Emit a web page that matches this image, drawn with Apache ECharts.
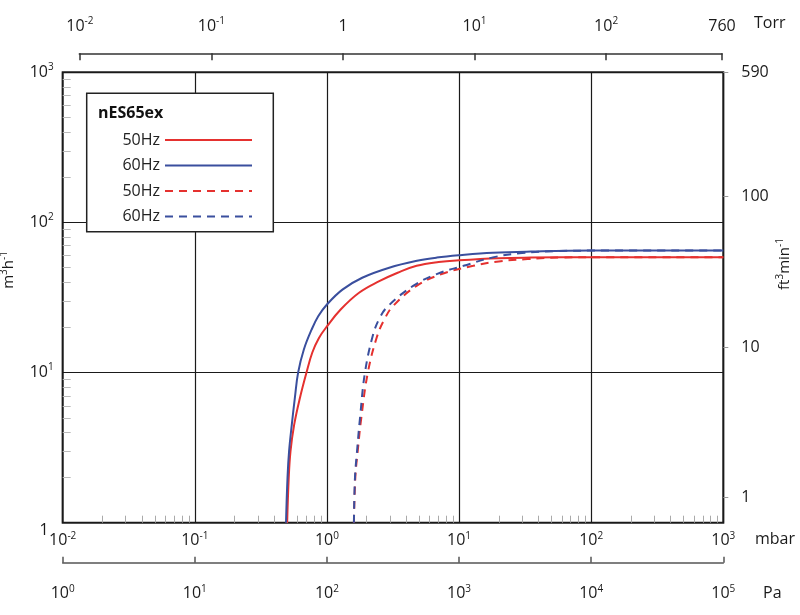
<!DOCTYPE html>
<html>
<head>
<meta charset="utf-8">
<script src="https://cdn.jsdelivr.net/npm/echarts@6.0.0/dist/echarts.min.js"></script>
<style>
  html, body { margin: 0; padding: 0; background: #fff; }
  #chart { width: 800px; height: 615px; }
</style>
</head>
<body>
<div id="chart"></div>
<script>
// nES65ex pumping speed: [pressure mbar, speed m3/h]
const solid50 = [[0.50, 1], [0.514, 2], [0.53, 3], [0.565, 4.5], [0.625, 6.8], [0.70, 10],
  [0.775, 13.6], [0.87, 17], [1.0, 20.3], [1.27, 26.3], [1.75, 34], [2.49, 40.6], [3.43, 46.2],
  [4.77, 51.4], [7, 54.5], [10, 56], [20, 57.8], [35, 58.3], [100, 58.6], [1000, 58.6]];
const solid60 = [[0.49, 1], [0.503, 2], [0.517, 3], [0.542, 4.5], [0.572, 6.8], [0.605, 10],
  [0.668, 14.2], [0.765, 19.3], [0.859, 23.7], [1.0, 28.4], [1.31, 35.7], [1.85, 42.8], [2.96, 49.9],
  [4.8, 55.5], [6.77, 58.3], [10.2, 60.5], [18, 62.8], [35, 64], [100, 64.9], [1000, 64.9]];
const dashed50 = [[1.60, 1], [1.64, 2], [1.71, 3], [1.82, 5], [2.04, 10], [2.40, 17.5], [2.75, 23],
  [3.16, 27.7], [4.77, 37.8], [7.38, 45.3], [12.8, 51.4], [20, 55], [33, 57], [60, 58.4],
  [100, 58.6], [1000, 58.6]];
const dashed60 = [[1.60, 1], [1.63, 2], [1.69, 3], [1.78, 5], [1.94, 10], [2.22, 17.5], [2.5, 23],
  [2.90, 27.7], [4.49, 37.8], [6.77, 45.3], [10.8, 51.4], [18, 58.5], [30, 62.5], [55, 64.5],
  [100, 64.9], [1000, 64.9]];

const legendTitle = 'nES65ex';
const seriesNames = ['50Hz', '60Hz', '50Hz\u200b', '60Hz\u200b'];
const torrTicks = [0.01, 0.1, 1, 10, 100, 760];
const ftTicks = [1, 10, 100, 671.5];   // top one is printed as 590
const ftTopLabel = '590';
const units = { torr: 'Torr', mbar: 'mbar', pa: 'Pa' };

// minor ticks at 2..9 of every decade
function minorValues(fromExp, toExp) {
  const out = [];
  for (let e = fromExp; e < toExp; e++) {
    for (let m = 2; m <= 9; m++) out.push(m * Math.pow(10, e));
  }
  return out;
}
const minorX = minorValues(-2, 3);
const minorY = minorValues(0, 3);

const FONT = '"Open Sans", "DejaVu Sans", sans-serif';
const INK = '#1a1a1a';
const RED = '#e5312f';
const BLUE = '#3a4f9e';

const rich = {
  b: { fontFamily: FONT, fontSize: 16, color: INK, lineHeight: 20 },
  s: { fontFamily: FONT, fontSize: 10, color: INK, lineHeight: 11, verticalAlign: 'top' },
  one: { fontFamily: FONT, fontSize: 16, color: INK, lineHeight: 20, padding: [16, 5, 0, 0] }
};
const nameRich = {
  a: { fontFamily: FONT, fontSize: 15, color: INK, lineHeight: 19 },
  s: { fontFamily: FONT, fontSize: 10, color: INK, lineHeight: 10, verticalAlign: 'top' }
};

function sup(v) {
  const e = Math.round(Math.log10(v));
  return '{b|10}{s|' + e + '}';
}
const isOne = v => Math.abs(v - 1) < 1e-9;

function unitText(text, x, y) {
  return {
    type: 'text', x: x, y: y, z: 3,
    style: { text: text, fontFamily: FONT, fontSize: 16, fill: INK,
      align: 'left', verticalAlign: 'middle', textAlign: 'left', textVerticalAlign: 'middle' }
  };
}

const chart = echarts.init(document.getElementById('chart'));

chart.setOption({
  animation: false,
  title: {
    text: legendTitle, left: 98, top: 105, padding: 0, z: 6,
    textStyle: { fontFamily: FONT, fontSize: 16, fontWeight: 'bold', color: '#111' }
  },
  graphic: [
    {
      type: 'rect', z: 3,
      shape: { x: 86.7, y: 93.3, width: 186.6, height: 138.4 },
      style: { fill: '#fff', stroke: '#222', lineWidth: 1.5 }
    },
    unitText(units.torr, 754, 23),
    unitText(units.mbar, 755, 539),
    unitText(units.pa, 763, 593)
  ],
  legend: {
    data: seriesNames,
    orient: 'vertical',
    right: 547, top: 132,
    padding: 0, itemGap: 9.5, itemWidth: 87, itemHeight: 14,
    align: 'right', selectedMode: false, z: 5,
    itemStyle: { opacity: 0 },
    formatter: n => n.replace('\u200b', ''),
    textStyle: { fontFamily: FONT, fontSize: 16, color: '#222' }
  },
  grid: [
    { left: 62.7, right: 76.7, top: 72.3, bottom: 92.3, show: true, borderColor: INK, borderWidth: 2,
      outerBoundsMode: 'none', containLabel: false },
    { left: 79.3, right: 78, top: 43.3, height: 10, show: false, outerBoundsMode: 'none', containLabel: false }
  ],
  xAxis: [
    { // mbar
      type: 'log', logBase: 10, gridIndex: 0, position: 'bottom', min: 0.01, max: 1000,
      axisLine: { show: false }, axisTick: { show: false },
      axisLabel: { margin: 8, formatter: sup, rich: rich },
      splitLine: { show: true, lineStyle: { color: INK, width: 1.2 } }
    },
    { // Pa
      type: 'log', logBase: 10, gridIndex: 0, position: 'bottom', offset: 40, min: 1, max: 100000,
      axisLine: { show: true, lineStyle: { color: '#555', width: 1.5 } },
      axisTick: { show: true, inside: true, length: 6, lineStyle: { color: '#555', width: 1.5 } },
      axisLabel: { margin: 21, formatter: sup, rich: rich },
      splitLine: { show: false }
    },
    { // Torr
      type: 'log', logBase: 10, gridIndex: 1, position: 'top', min: 0.0099, max: 760.5,
      axisLine: { show: true, lineStyle: { color: '#333', width: 1.5 } },
      axisTick: { show: true, inside: true, length: 7, customValues: torrTicks, lineStyle: { color: '#333', width: 1.5 } },
      axisLabel: {
        margin: 7, customValues: torrTicks, rich: rich,
        formatter: v => v > 700 ? '{b|760}' : (isOne(v) ? '{b|1}' : sup(v))
      },
      splitLine: { show: false }
    },
    { // minor ticks along the mbar edge
      type: 'log', logBase: 10, gridIndex: 0, position: 'bottom', min: 0.01, max: 1000,
      axisLine: { show: false }, axisLabel: { show: false }, splitLine: { show: false },
      axisTick: { show: true, inside: true, length: 7, customValues: minorX, lineStyle: { color: '#aaa', width: 1 } }
    }
  ],
  yAxis: [
    { // m3/h
      type: 'log', logBase: 10, gridIndex: 0, position: 'left', min: 1, max: 1000,
      name: '{a|m}{s|3}{a|h}{s|-1}', nameLocation: 'middle', nameGap: 44.7, nameMoveOverlap: false,
      nameTextStyle: { rich: nameRich, padding: [0, 0, 0, 55] },
      axisLine: { show: false }, axisTick: { show: false },
      axisLabel: { margin: 9, rich: rich, formatter: v => isOne(v) ? '{one|1}' : sup(v) },
      splitLine: { show: true, lineStyle: { color: INK, width: 1.2 } }
    },
    { // ft3/min
      type: 'log', logBase: 10, gridIndex: 0, position: 'right', min: 0.678, max: 672,
      name: '{a|ft}{s|3}{a|min}{s|-1}', nameLocation: 'middle', nameGap: 52, nameMoveOverlap: false,
      nameTextStyle: { rich: nameRich, padding: [0, 0, 0, 67] },
      axisLine: { show: false },
      axisTick: { show: true, length: 5, customValues: ftTicks, lineStyle: { color: '#999', width: 1 } },
      axisLabel: {
        margin: 18, customValues: ftTicks, rich: rich,
        formatter: v => v > 600 ? '{b|' + ftTopLabel + '}' : '{b|' + Math.round(v) + '}'
      },
      splitLine: { show: false }
    },
    { // minor ticks along the left edge
      type: 'log', logBase: 10, gridIndex: 0, position: 'left', min: 1, max: 1000,
      axisLine: { show: false }, axisLabel: { show: false }, splitLine: { show: false },
      axisTick: { show: true, inside: true, length: 8, customValues: minorY, lineStyle: { color: '#bbb', width: 1 } }
    },
    { type: 'value', gridIndex: 1, show: false }
  ],
  series: [
    { name: seriesNames[0], type: 'line', data: solid50, symbol: 'none', smooth: 0.4,
      lineStyle: { color: RED, width: 2 }, itemStyle: { color: RED } },
    { name: seriesNames[1], type: 'line', data: solid60, symbol: 'none', smooth: 0.4,
      lineStyle: { color: BLUE, width: 2 }, itemStyle: { color: BLUE } },
    { name: seriesNames[2], type: 'line', data: dashed50, symbol: 'none', smooth: 0.4,
      lineStyle: { color: RED, width: 2, type: [8, 6] }, itemStyle: { color: RED } },
    { name: seriesNames[3], type: 'line', data: dashed60, symbol: 'none', smooth: 0.4,
      lineStyle: { color: BLUE, width: 2, type: [8, 6] }, itemStyle: { color: BLUE } }
  ]
});
</script>
</body>
</html>
